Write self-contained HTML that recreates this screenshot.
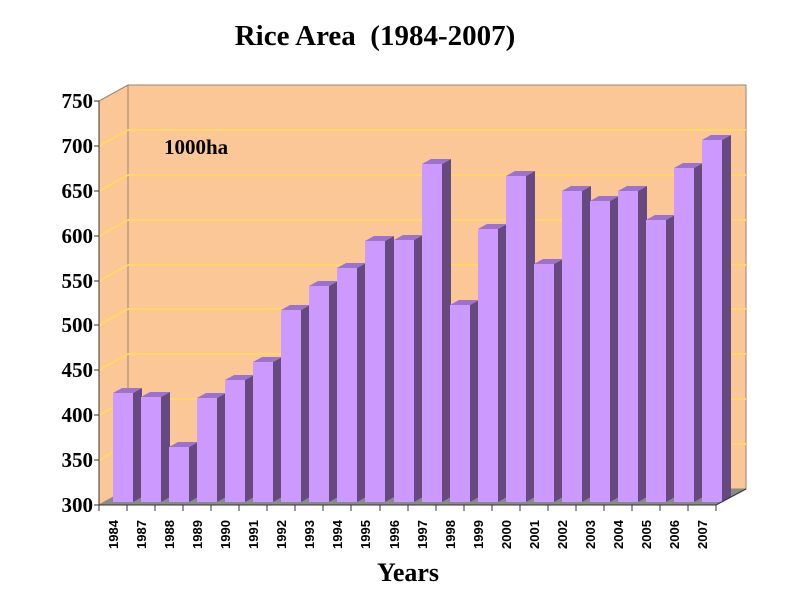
<!DOCTYPE html>
<html><head><style>body{margin:0;background:#fff}svg{display:block}</style></head>
<body>
<svg width="800" height="600" xmlns="http://www.w3.org/2000/svg" font-family="Liberation Serif, serif" font-weight="bold">
<rect width="800" height="600" fill="#fff"/>
<text x="375" y="45" font-size="29" text-anchor="middle">Rice Area&#160; (1984-2007)</text>
<polygon points="99,101 128,85 128,489 99,505" fill="#FBC797" stroke="#9a8470" stroke-width="1"/>
<rect x="128" y="85" width="618" height="404" fill="#FBC797" stroke="#9a8470" stroke-width="1"/>
<g stroke="#FFD86A" stroke-width="2" fill="none">
<path d="M128,130H746M128,175H746M128,220H746M128,265H746M128,309H746M128,354H746M128,399H746M128,444H746"/>
<path d="M99,146L128,130M99,191L128,175M99,236L128,220M99,281L128,265M99,325L128,309M99,370L128,354M99,415L128,399M99,460L128,444"/>
</g>
<polygon points="99,505 128,489 746,489 716,505" fill="#8a8a8a"/>
<defs><polygon id="tp" points="0,0 9,-5 29,-5 20,0" fill="#9C72CC"/></defs>
<g>
<g transform="translate(113,393)"><polygon points="20,0 29,-5 29,104 20,109" fill="#66497F"/><use href="#tp"/><rect width="20" height="109" fill="#CC99FF"/></g>
<g transform="translate(141,397)"><polygon points="20,0 29,-5 29,100 20,105" fill="#66497F"/><use href="#tp"/><rect width="20" height="105" fill="#CC99FF"/></g>
<g transform="translate(169,447)"><polygon points="20,0 29,-5 29,50 20,55" fill="#66497F"/><use href="#tp"/><rect width="20" height="55" fill="#CC99FF"/></g>
<g transform="translate(197,398)"><polygon points="20,0 29,-5 29,99 20,104" fill="#66497F"/><use href="#tp"/><rect width="20" height="104" fill="#CC99FF"/></g>
<g transform="translate(225,380)"><polygon points="20,0 29,-5 29,117 20,122" fill="#66497F"/><use href="#tp"/><rect width="20" height="122" fill="#CC99FF"/></g>
<g transform="translate(253,362)"><polygon points="20,0 29,-5 29,135 20,140" fill="#66497F"/><use href="#tp"/><rect width="20" height="140" fill="#CC99FF"/></g>
<g transform="translate(281,310)"><polygon points="20,0 29,-5 29,187 20,192" fill="#66497F"/><use href="#tp"/><rect width="20" height="192" fill="#CC99FF"/></g>
<g transform="translate(309,286)"><polygon points="20,0 29,-5 29,211 20,216" fill="#66497F"/><use href="#tp"/><rect width="20" height="216" fill="#CC99FF"/></g>
<g transform="translate(337,268)"><polygon points="20,0 29,-5 29,229 20,234" fill="#66497F"/><use href="#tp"/><rect width="20" height="234" fill="#CC99FF"/></g>
<g transform="translate(365,241)"><polygon points="20,0 29,-5 29,256 20,261" fill="#66497F"/><use href="#tp"/><rect width="20" height="261" fill="#CC99FF"/></g>
<g transform="translate(394,240)"><polygon points="20,0 29,-5 29,257 20,262" fill="#66497F"/><use href="#tp"/><rect width="20" height="262" fill="#CC99FF"/></g>
<g transform="translate(422,164)"><polygon points="20,0 29,-5 29,333 20,338" fill="#66497F"/><use href="#tp"/><rect width="20" height="338" fill="#CC99FF"/></g>
<g transform="translate(450,305)"><polygon points="20,0 29,-5 29,192 20,197" fill="#66497F"/><use href="#tp"/><rect width="20" height="197" fill="#CC99FF"/></g>
<g transform="translate(478,229)"><polygon points="20,0 29,-5 29,268 20,273" fill="#66497F"/><use href="#tp"/><rect width="20" height="273" fill="#CC99FF"/></g>
<g transform="translate(506,176)"><polygon points="20,0 29,-5 29,321 20,326" fill="#66497F"/><use href="#tp"/><rect width="20" height="326" fill="#CC99FF"/></g>
<g transform="translate(534,264)"><polygon points="20,0 29,-5 29,233 20,238" fill="#66497F"/><use href="#tp"/><rect width="20" height="238" fill="#CC99FF"/></g>
<g transform="translate(562,191)"><polygon points="20,0 29,-5 29,306 20,311" fill="#66497F"/><use href="#tp"/><rect width="20" height="311" fill="#CC99FF"/></g>
<g transform="translate(590,201)"><polygon points="20,0 29,-5 29,296 20,301" fill="#66497F"/><use href="#tp"/><rect width="20" height="301" fill="#CC99FF"/></g>
<g transform="translate(618,191)"><polygon points="20,0 29,-5 29,306 20,311" fill="#66497F"/><use href="#tp"/><rect width="20" height="311" fill="#CC99FF"/></g>
<g transform="translate(646,220)"><polygon points="20,0 29,-5 29,277 20,282" fill="#66497F"/><use href="#tp"/><rect width="20" height="282" fill="#CC99FF"/></g>
<g transform="translate(674,168)"><polygon points="20,0 29,-5 29,329 20,334" fill="#66497F"/><use href="#tp"/><rect width="20" height="334" fill="#CC99FF"/></g>
<g transform="translate(702,140)"><polygon points="20,0 29,-5 29,357 20,362" fill="#66497F"/><use href="#tp"/><rect width="20" height="362" fill="#CC99FF"/></g>
</g>
<g stroke="#333" stroke-width="1" fill="none">
<line x1="99" y1="101" x2="99" y2="505"/>
<line x1="99" y1="505" x2="716" y2="505"/>
<line x1="716" y1="505" x2="746" y2="489"/>
<path d="M94,101H99M94,146H99M94,191H99M94,236H99M94,281H99M94,325H99M94,370H99M94,415H99M94,460H99M94,505H99"/>
<path d="M99,505V511M127,505V511M155,505V511M183,505V511M211,505V511M239,505V511M267,505V511M295,505V511M323,505V511M351,505V511M380,505V511M408,505V511M436,505V511M464,505V511M492,505V511M520,505V511M548,505V511M576,505V511M604,505V511M632,505V511M660,505V511M688,505V511M716,505V511"/>
</g>
<g font-size="21" text-anchor="end">
<text x="93" y="108">750</text><text x="93" y="153">700</text><text x="93" y="198">650</text><text x="93" y="243">600</text><text x="93" y="288">550</text><text x="93" y="332">500</text><text x="93" y="377">450</text><text x="93" y="422">400</text><text x="93" y="467">350</text><text x="93" y="512">300</text>
</g>
<text x="164" y="154" font-size="21">1000ha</text>
<text x="408" y="581" font-size="26" text-anchor="middle">Years</text>
<g font-size="13" font-family="Liberation Sans, sans-serif">
<text transform="translate(118,549) rotate(-90)">1984</text>
<text transform="translate(146,549) rotate(-90)">1987</text>
<text transform="translate(174,549) rotate(-90)">1988</text>
<text transform="translate(202,549) rotate(-90)">1989</text>
<text transform="translate(230,549) rotate(-90)">1990</text>
<text transform="translate(258,549) rotate(-90)">1991</text>
<text transform="translate(286,549) rotate(-90)">1992</text>
<text transform="translate(314,549) rotate(-90)">1993</text>
<text transform="translate(342,549) rotate(-90)">1994</text>
<text transform="translate(370,549) rotate(-90)">1995</text>
<text transform="translate(399,549) rotate(-90)">1996</text>
<text transform="translate(427,549) rotate(-90)">1997</text>
<text transform="translate(455,549) rotate(-90)">1998</text>
<text transform="translate(483,549) rotate(-90)">1999</text>
<text transform="translate(511,549) rotate(-90)">2000</text>
<text transform="translate(539,549) rotate(-90)">2001</text>
<text transform="translate(567,549) rotate(-90)">2002</text>
<text transform="translate(595,549) rotate(-90)">2003</text>
<text transform="translate(623,549) rotate(-90)">2004</text>
<text transform="translate(651,549) rotate(-90)">2005</text>
<text transform="translate(679,549) rotate(-90)">2006</text>
<text transform="translate(707,549) rotate(-90)">2007</text>
</g>
</svg>
</body></html>
